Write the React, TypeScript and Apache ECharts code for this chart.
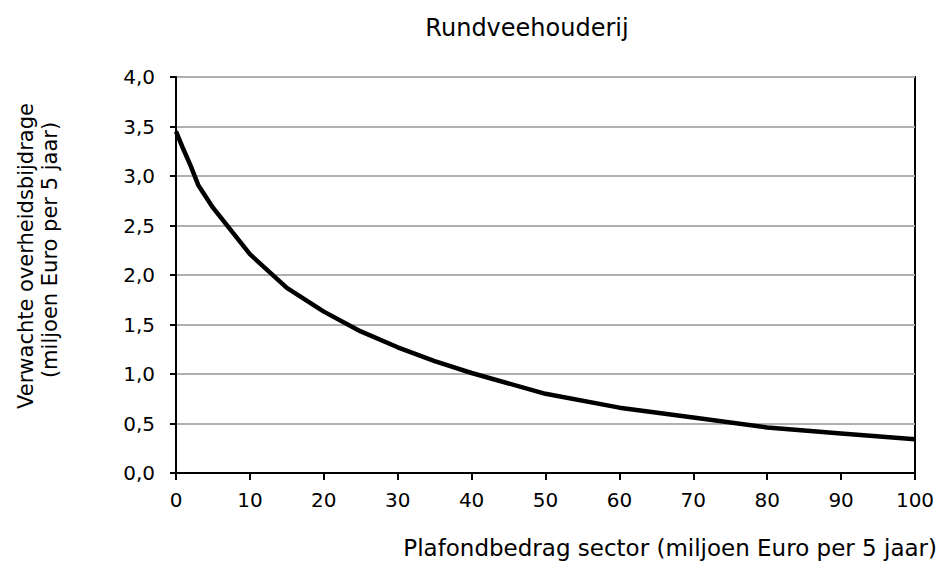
import React, { useEffect, useRef } from "react";
import * as echarts from "echarts";

const xValues = [0, 1, 2, 3, 5, 10, 15, 20, 25, 30, 35, 40, 50, 60, 70, 80, 90, 100];
const yValues = [3.45, 3.27, 3.1, 2.91, 2.68, 2.21, 1.87, 1.63, 1.43, 1.27, 1.13, 1.01, 0.8, 0.66, 0.56, 0.46, 0.4, 0.34];
const titleText = "Rundveehouderij";
const xAxisName = "Plafondbedrag sector (miljoen Euro per 5 jaar)";
const yAxisName1 = "Verwachte overheidsbijdrage";
const yAxisName2 = "(miljoen Euro per 5 jaar)";

const FONT = "'DejaVu Sans', Verdana, sans-serif";

export default function App() {
  const ref = useRef<HTMLDivElement>(null);
  useEffect(() => {
    if (!ref.current) return;
    const chart = echarts.init(ref.current, undefined, { renderer: "svg" });
    chart.setOption({
      animation: false,
      backgroundColor: "#ffffff",
      grid: {
        left: 176,
        right: 26,
        top: 77,
        bottom: 92,
        show: true,
        borderColor: "#000",
        borderWidth: 2,
        backgroundColor: "transparent",
      },
      xAxis: {
        type: "value",
        min: 0,
        max: 100,
        interval: 10,
        axisLine: { show: true, lineStyle: { color: "#000", width: 2 } },
        axisTick: { show: true, length: 7, lineStyle: { color: "#000", width: 2 } },
        axisLabel: { fontFamily: FONT, fontSize: 20, color: "#000", margin: 17 },
        splitLine: { show: false },
      },
      yAxis: {
        type: "value",
        min: 0,
        max: 4,
        interval: 0.5,
        axisLine: { show: true, lineStyle: { color: "#000", width: 2 } },
        axisTick: { show: true, length: 6, lineStyle: { color: "#000", width: 2 } },
        axisLabel: {
          fontFamily: FONT,
          fontSize: 20,
          color: "#000",
          margin: 21,
          formatter: (v: number) => v.toFixed(1).replace(".", ","),
        },
        splitLine: { show: true, lineStyle: { color: "#b0b0b0", width: 2 } },
      },
      graphic: [
        {
          type: "text",
          x: 527,
          y: 28,
          style: {
            text: titleText,
            fontFamily: FONT,
            fontSize: 24,
            fill: "#000",
            align: "center",
            verticalAlign: "middle",
          },
        },
        {
          type: "text",
          x: 937,
          y: 548,
          style: {
            text: xAxisName,
            fontFamily: FONT,
            fontSize: 23,
            fill: "#000",
            align: "right",
            verticalAlign: "middle",
          },
        },
        {
          type: "text",
          x: 26,
          y: 256,
          rotation: Math.PI / 2,
          style: {
            text: yAxisName1,
            fontFamily: FONT,
            fontSize: 21,
            fill: "#000",
            align: "center",
            verticalAlign: "middle",
          },
        },
        {
          type: "text",
          x: 50,
          y: 250,
          rotation: Math.PI / 2,
          style: {
            text: yAxisName2,
            fontFamily: FONT,
            fontSize: 21,
            fill: "#000",
            align: "center",
            verticalAlign: "middle",
          },
        },
      ],
      series: [
        {
          type: "line",
          data: xValues.map((x, i) => [x, yValues[i]]),
          showSymbol: false,
          symbol: "none",
          smooth: false,
          lineStyle: { color: "#000", width: 4.5 },
        },
      ],
    });
    return () => chart.dispose();
  }, []);
  return <div ref={ref} style={{ width: 941, height: 565, position: "absolute", left: 0, top: 0 }} />;
}
